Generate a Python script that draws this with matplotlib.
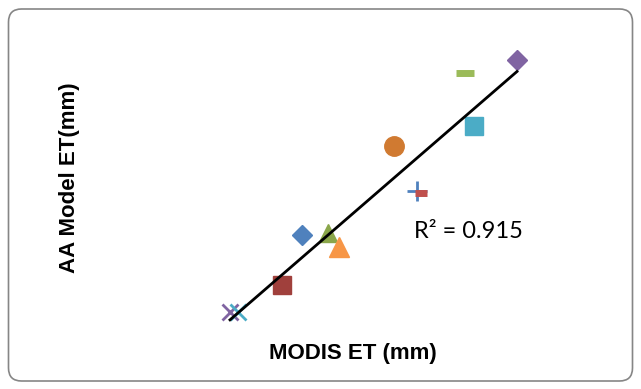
import matplotlib.pyplot as plt
from matplotlib.patches import FancyBboxPatch
import numpy as np

# MODIS ET vs AA model ET (mm), one marker style per point
modis_et = [51, 41, 64, 15, 19, 97, 108.5, 110.5, 132.5, 158.5, 137, 69.5]
model_et = [47.5, 22.5, 48.5, 9, 9, 92, 69.5, 68.5, 128.5, 135, 102, 41.5]
markers = ['D', 's', '^', 'x', 'x', 'o', '+', '_', '_', 'D', 's', '^']
colors = ['#4F81BD', '#A0403C', '#8AA64A', '#8064A2', '#4BACC6', '#D07A31',
          '#4F81BD', '#C0504D', '#9BBB59', '#8064A2', '#4BACC6', '#F79646']
sizes = [10, 13, 13, 12, 12, 14, 14, 9, 13, 10, 13, 14]
r2_label = 'R² = 0.915'

plt.rcParams['font.family'] = ['Liberation Sans', 'DejaVu Sans']

fig = plt.figure(figsize=(6.41, 3.89), dpi=100)

# rounded chart border (inches, so the corners stay round)
border = FancyBboxPatch((0.085, 0.08), 6.24, 3.72,
                        boxstyle='round,pad=0,rounding_size=0.13',
                        transform=fig.dpi_scale_trans, facecolor='white',
                        edgecolor='#868686', linewidth=1.2, zorder=-1)
fig.patches.append(border)

ax = fig.add_axes([200 / 641, 59 / 389, 340 / 641, 290 / 389])
ax.set_xlim(0, 170)
ax.set_ylim(0, 145)
ax.axis('off')

for x, y, m, c, s in zip(modis_et, model_et, markers, colors, sizes):
    if m in ('x', '+'):
        ax.plot(x, y, m, color=c, ms=s, mew=2, zorder=3)
    elif m == '_':
        ax.plot(x, y, m, color=c, ms=s, mew=5, zorder=3)
    else:
        ax.plot(x, y, m, color=c, ms=s, mec=c, zorder=3)

# linear trendline
coef = np.polyfit(modis_et, model_et, 1)
xs = np.array([min(modis_et), max(modis_et)])
ax.plot(xs, np.polyval(coef, xs), color='black', lw=2, zorder=4)

fig.text(468 / 641, 1 - 232 / 389, r2_label, fontsize=17, family=['Lato', 'DejaVu Sans'],
         ha='center', va='center')
fig.text(353 / 641, 1 - 354 / 389, 'MODIS ET (mm)', fontsize=16, fontweight='bold',
         ha='center', va='center')
fig.text(70 / 641, 1 - 178 / 389, 'AA Model ET(mm)', fontsize=16, fontweight='bold',
         ha='center', va='center', rotation=90)

fig.savefig('out.png', dpi=100)
